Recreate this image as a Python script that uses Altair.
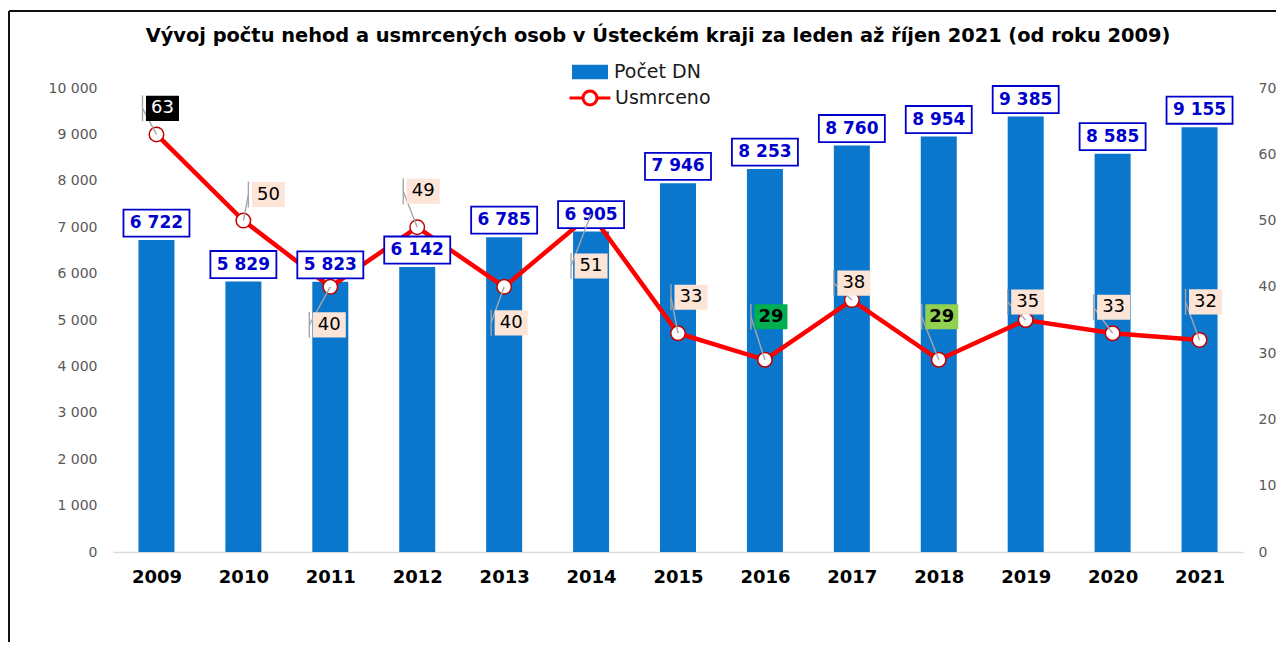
import altair as alt
import pandas as pd

# ---- data ----
years = [2009, 2010, 2011, 2012, 2013, 2014, 2015, 2016, 2017, 2018, 2019, 2020, 2021]
accidents = [6722, 5829, 5823, 6142, 6785, 6905, 7946, 8253, 8760, 8954, 9385, 8585, 9155]
deaths = [63, 50, 40, 49, 40, 51, 33, 29, 38, 29, 35, 33, 32]

# ---- label layout / styling (pixels relative to each point) ----
label_dx = [6, 25, -1, 6, 7, 0, 13, 6, 2, 3, 2, 1, 6]
label_dy = [-26, -26, 38, -36, 36, 52, -36, -43, -17, -43, -18, -26, -38]
PEACH = "#FCE4D6"
label_fill = ["#000000", PEACH, PEACH, PEACH, PEACH, PEACH, PEACH, "#00B050", PEACH, "#92D050", PEACH, PEACH, PEACH]
label_color = ["#FFFFFF"] + ["#000000"] * 12
label_bold = [False] * 7 + [True, False, True] + [False] * 3

BLUE = "#0A77CC"
RED = "#FF0000"
LABEL_BLUE = "#0000CC"
FONT = "DejaVu Sans"
TITLE = "Vývoj počtu nehod a usmrcených osob v Ústeckém kraji za leden až říjen 2021 (od roku 2009)"

W, H = 1130, 464
CNT_MAX, D_MAX = 10000, 70

df = pd.DataFrame({
    "year": years,
    "accidents": accidents,
    "deaths": deaths,
    "dx": label_dx,
    "dy": label_dy,
    "lfill": label_fill,
    "tcolor": label_color,
    "bold": label_bold,
})
df["bar_series"] = "Počet DN"
df["line_series"] = "Usmrceno"

px_x = f"({years[-1] - years[0] + 1}/{W})"
px_c = f"({CNT_MAX}/{H})"
px_d = f"({D_MAX}/{H})"

base = alt.Chart(df).transform_calculate(
    acc_label="replace(format(datum.accidents, ','), ',', ' ')",
    acc_y=f"datum.accidents + 17*{px_c}",
    lab_x=f"datum.year + datum.dx*{px_x}",
    lab_y=f"datum.deaths - datum.dy*{px_d}",
    lead_x=f"datum.year + (datum.dx - 20)*{px_x}",
    lead_y1=f"datum.deaths - (datum.dy - 13)*{px_d}",
    lead_y2=f"datum.deaths - (datum.dy + 13)*{px_d}",
)

x_scale = alt.Scale(domain=[years[0] - 0.5, years[-1] + 0.5], nice=False, zero=False, padding=0)
c_scale = alt.Scale(domain=[0, CNT_MAX], nice=False, padding=0)
d_scale = alt.Scale(domain=[0, D_MAX], nice=False, padding=0)

x_axis = alt.Axis(values=years, format="d", grid=False, ticks=False, domainColor="#D9D9D9",
                  domainWidth=1.5, labelFont=FONT, labelFontSize=18, labelFontWeight="bold",
                  labelColor="#000000", labelPadding=16, title=None)


def xq(field):
    return alt.X(f"{field}:Q", scale=x_scale, axis=x_axis, title=None)


left_axis = alt.Axis(orient="left", values=list(range(0, CNT_MAX + 1, 1000)), grid=False, ticks=False,
                     domain=False, labelFont=FONT, labelFontSize=14, labelColor="#595959",
                     labelPadding=16, labelExpr="replace(format(datum.value, ','), ',', ' ')")
right_axis = alt.Axis(orient="right", values=list(range(0, D_MAX + 1, 10)), grid=False, ticks=False,
                      domain=False, labelFont=FONT, labelFontSize=14, labelColor="#595959",
                      labelPadding=15)

bars = base.mark_bar(width=36).encode(
    x=xq("year"),
    y=alt.Y("accidents:Q", scale=c_scale, axis=left_axis, title=None),
    fill=alt.Fill("bar_series:N", scale=alt.Scale(domain=["Počet DN"], range=[BLUE]),
                  legend=alt.Legend(title=None, orient="none", legendX=459, legendY=-34, padding=0,
                                    symbolType="M-1,-0.4H1V0.4H-1Z", symbolSize=1296,
                                    symbolStrokeWidth=0, labelFont=FONT, labelFontSize=19,
                                    labelColor="#1a1a1a", labelOffset=6)),
)

line = base.mark_line(strokeWidth=4.5).encode(
    x=xq("year"),
    y=alt.Y("deaths:Q", scale=d_scale, axis=right_axis, title=None),
    stroke=alt.Stroke("line_series:N", scale=alt.Scale(domain=["Usmrceno"], range=[RED]),
                      legend=alt.Legend(title=None, orient="none", legendX=455, legendY=-12, padding=0,
                                        symbolType="M-1,0H-0.34M0.34,0H1M0.34,0A0.34,0.34,0,1,1,-0.34,0A0.34,0.34,0,1,1,0.34,0Z",
                                        symbolSize=1681, symbolStrokeWidth=3, symbolFillColor="#FFFFFF",
                                        labelFont=FONT, labelFontSize=19, labelColor="#1a1a1a",
                                        labelOffset=3)),
)

points = base.mark_point(filled=True, fill="#FFFFFF", stroke="#C00000", strokeWidth=1.5,
                         size=210, opacity=1).encode(
    x=xq("year"), y=alt.Y("deaths:Q", scale=d_scale, axis=None))

bar_box = base.mark_point(shape="M-1,-0.41H1V0.41H-1Z", size=66 * 66, filled=True, fill="#FFFFFF",
                          stroke=LABEL_BLUE, strokeWidth=1.8, opacity=1).encode(
    x=xq("year"), y=alt.Y("acc_y:Q", scale=c_scale, axis=None))

bar_text = base.mark_text(font=FONT, fontSize=17, fontWeight="bold", color=LABEL_BLUE).encode(
    x=xq("year"), y=alt.Y("acc_y:Q", scale=c_scale, axis=None), text="acc_label:N")

lead_diag = base.mark_rule(color="#A6A6A6", strokeWidth=1.4).encode(
    x=xq("year"), y=alt.Y("deaths:Q", scale=d_scale, axis=None),
    x2="lead_x:Q", y2="lab_y:Q")

lead_vert = base.mark_rule(color="#A6A6A6", strokeWidth=1.4).encode(
    x=xq("lead_x"),
    y=alt.Y("lead_y1:Q", scale=d_scale, axis=None), y2="lead_y2:Q")

lab_box = base.mark_point(shape="M-1,-0.76H1V0.76H-1Z", size=33 * 33, filled=True, opacity=1,
                          strokeWidth=0).encode(
    x=xq("lab_x"),
    y=alt.Y("lab_y:Q", scale=d_scale, axis=None),
    color=alt.Color("lfill:N", scale=None))

lab_text = base.mark_text(font=FONT, fontSize=18).encode(
    x=xq("lab_x"),
    y=alt.Y("lab_y:Q", scale=d_scale, axis=None),
    text="deaths:Q",
    color=alt.Color("tcolor:N", scale=None)).transform_filter("!datum.bold")

lab_text_b = base.mark_text(font=FONT, fontSize=18, fontWeight="bold").encode(
    x=xq("lab_x"),
    y=alt.Y("lab_y:Q", scale=d_scale, axis=None),
    text="deaths:Q",
    color=alt.Color("tcolor:N", scale=None)).transform_filter("datum.bold")

deco_src = alt.Chart(pd.DataFrame({"t": [TITLE]}))
frame_top = deco_src.mark_rule(color="#111111", strokeWidth=2).encode(
    x=alt.value(-104), x2=alt.value(1200), y=alt.value(-77), y2=alt.value(-77))
frame_left = deco_src.mark_rule(color="#111111", strokeWidth=2).encode(
    x=alt.value(-104), x2=alt.value(-104), y=alt.value(-77), y2=alt.value(H + 100))
title = deco_src.mark_text(font=FONT, fontSize=19.4, fontWeight="bold", color="#000000",
                           align="center", baseline="middle").encode(
    x=alt.value(545), y=alt.value(-52), text="t:N")

chart = alt.layer(
    frame_top, frame_left, title, bars, line, points, bar_box, bar_text,
    lead_diag, lead_vert, lab_box, lab_text, lab_text_b,
).resolve_scale(y="independent").properties(
    width=W, height=H,
    padding={"left": 105, "top": 80, "right": 33, "bottom": 90},
    autosize=alt.AutoSizeParams(type="none"),
    background="#FFFFFF",
).configure_view(stroke=None)

chart.save("out.html", embed_options={"renderer": "svg", "actions": False})
